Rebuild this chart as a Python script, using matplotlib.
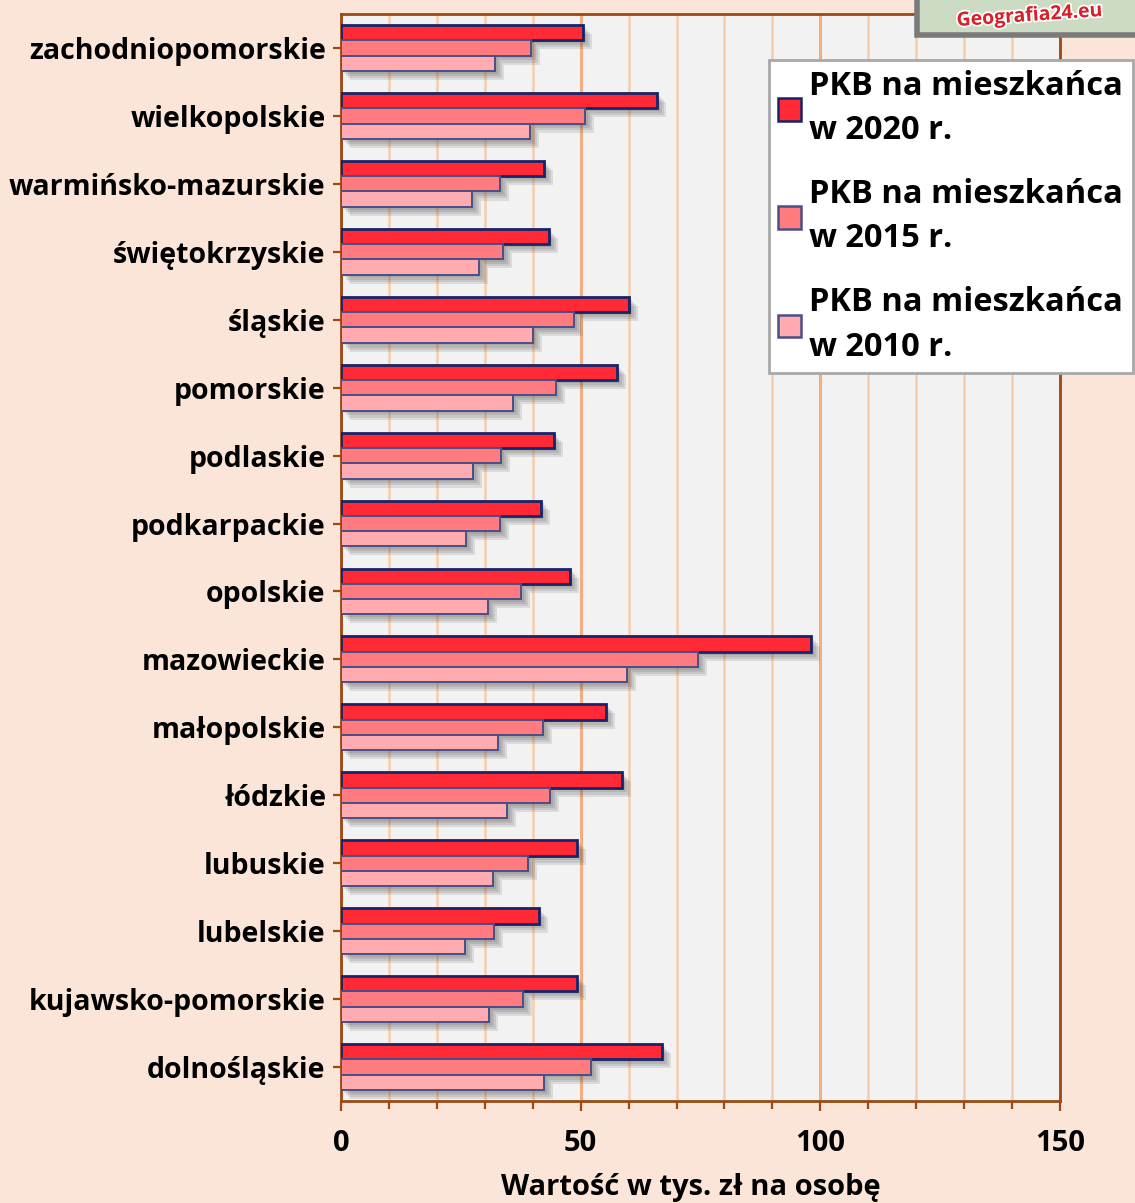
import matplotlib
matplotlib.use("Agg")
import matplotlib.pyplot as plt
import matplotlib.patheffects as pe
from matplotlib.patches import Patch, Rectangle
from matplotlib.ticker import MultipleLocator
import numpy as np

plt.rcParams['font.family'] = ['Open Sans', 'DejaVu Sans']
plt.rcParams['font.weight'] = 'bold'

regions = ["dolnośląskie", "kujawsko-pomorskie", "lubelskie", "lubuskie", "łódzkie",
           "małopolskie", "mazowieckie", "opolskie", "podkarpackie", "podlaskie",
           "pomorskie", "śląskie", "świętokrzyskie", "warmińsko-mazurskie",
           "wielkopolskie", "zachodniopomorskie"]
pkb_2020 = [67.0, 49.2, 41.3, 49.2, 58.6, 55.3, 98.1, 47.8, 41.7, 44.4,
            57.6, 60.1, 43.4, 42.4, 65.9, 50.5]
pkb_2015 = [52.2, 38.0, 31.9, 39.0, 43.6, 42.1, 74.5, 37.6, 33.2, 33.4,
            44.9, 48.6, 33.8, 33.2, 50.9, 39.6]
pkb_2010 = [42.4, 30.9, 25.9, 31.7, 34.6, 32.8, 59.7, 30.7, 26.1, 27.5,
            35.9, 40.1, 28.8, 27.3, 39.4, 32.1]
series_labels = ["PKB na mieszkańca\nw 2020 r.", "PKB na mieszkańca\nw 2015 r.",
                 "PKB na mieszkańca\nw 2010 r."]
x_ticks = [0, 50, 100, 150]
x_label = "Wartość w tys. zł na osobę"

fig_bg = "#FAE5D8"
colors = ["#FF2A35", "#FF7B7F", "#FFABB0"]
edges = ["#14256A", "#4A4F86", "#4A4F86"]
lws = [2.0, 1.4, 1.4]

fig = plt.figure(figsize=(11.35, 12.03), dpi=100, facecolor=fig_bg)
ax = fig.add_axes([341/1135, 1 - 1101/1203, (1060-341)/1135, (1101-14)/1203])
ax.set_facecolor("#F2F2F2")

y = np.arange(len(regions))
h = 0.225
shadow = [pe.SimplePatchShadow(offset=(o, -o), shadow_rgbFace="#505050", alpha=0.14)
          for o in (2, 3.5, 5, 6.5)] + [pe.Normal()]
for vals, off, c, ec, lw, lab in zip([pkb_2020, pkb_2015, pkb_2010], [h, 0, -h],
                                      colors, edges, lws, series_labels):
    bars = ax.barh(y + off, vals, height=h, color=c, edgecolor=ec, linewidth=lw,
                   label=lab, zorder=3)
    for b in bars:
        b.set_path_effects(shadow)

ax.set_xlim(0, 150)
ax.set_ylim(-0.5, len(regions) - 0.5)
ax.set_yticks(y)
ax.set_yticklabels(regions)
ax.set_xticks(x_ticks)
ax.xaxis.set_minor_locator(MultipleLocator(10))

# grid
ax.grid(axis='x', which='minor', color="#F9CCA8", linewidth=1.8, zorder=0)
ax.grid(axis='x', which='major', color="#F2AE7E", linewidth=2.2, zorder=0)
ax.set_axisbelow(True)

spine_c = "#9A4A14"
for s in ax.spines.values():
    s.set_color(spine_c)
    s.set_linewidth(2.0)

ax.tick_params(axis='y', which='major', length=6, width=1.6, color=spine_c, pad=5,
               labelsize=20.5)
ax.tick_params(axis='x', which='major', length=7.5, width=1.6, color=spine_c, pad=13,
               labelsize=21)
ax.tick_params(axis='x', which='minor', length=5.5, width=1.6, color=spine_c)
for t in ax.get_yticklabels() + ax.get_xticklabels():
    t.set_fontweight('bold')

ax.set_xlabel(x_label, fontsize=21, fontweight='bold')
ax.xaxis.set_label_coords(0.486, -0.066)

handles = [Patch(facecolor=c, edgecolor=ec, linewidth=1.8) for c, ec in zip(colors, edges)]
leg = ax.legend(handles, series_labels, loc='upper right',
                bbox_to_anchor=(1133/1135, 1 - 60/1203), bbox_transform=fig.transFigure,
                fancybox=False, framealpha=1, edgecolor="#A8A8A8", facecolor="white",
                prop={'size': 23.5, 'weight': 'bold'}, handlelength=0.7, handleheight=0.7,
                handletextpad=0.25, labelspacing=0.95, borderpad=0.3, borderaxespad=0)
leg.get_frame().set_linewidth(2)
for t in leg.get_texts():
    t.set_linespacing(1.45)
leg.set_zorder(10)

# logo
fig.patches.append(Rectangle((917/1135, 1 - 35/1203), 225/1135, 40/1203,
                             transform=fig.transFigure, facecolor="#CCDCC4",
                             edgecolor="#7A7A7A", linewidth=4, zorder=5))
fig.text(1030/1135, 1 - 16/1203, "Geografia24.eu", color="#D8202A", fontsize=14,
         fontweight='bold', ha='center', va='center', rotation=4, zorder=6,
         path_effects=[pe.withStroke(linewidth=2.5, foreground="white")])

fig.savefig("out.png", dpi=100, facecolor=fig_bg)
